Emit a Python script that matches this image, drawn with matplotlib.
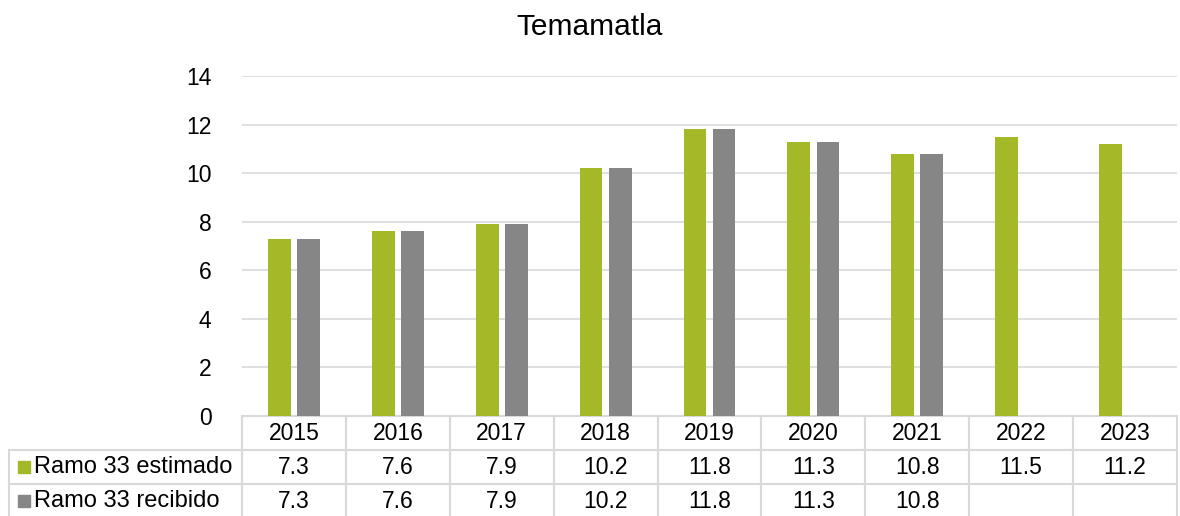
import numpy as np
import matplotlib
matplotlib.use('Agg')
import matplotlib.pyplot as plt

plt.rcParams['font.family'] = ['Liberation Sans', 'DejaVu Sans']

# datos
years = ['2015', '2016', '2017', '2018', '2019', '2020', '2021', '2022', '2023']
estimado = [7.3, 7.6, 7.9, 10.2, 11.8, 11.3, 10.8, 11.5, 11.2]
recibido = [7.3, 7.6, 7.9, 10.2, 11.8, 11.3, 10.8, None, None]
series_names = ['Ramo 33 estimado', 'Ramo 33 recibido']
colors = ['#a5b828', '#868686']

fig = plt.figure(figsize=(11.8, 5.16), dpi=100)
ax = fig.add_axes([242/1180, 1 - 416/516, (1177 - 242)/1180, 340/516])

x = np.arange(len(years))
w = 0.22
off = 0.14
rec = [np.nan if v is None else v for v in recibido]
ax.bar(x - off, estimado, w, color=colors[0], zorder=3)
ax.bar(x + off, rec, w, color=colors[1], zorder=3)

ax.set_xlim(-0.5, len(years) - 0.5)
ax.set_ylim(0, 14)
ax.set_yticks(range(0, 15, 2))
ax.tick_params(axis='y', length=0, labelsize=16.5, pad=22)
ax.set_xticks([])
ax.grid(axis='y', color='#d9d9d9', linewidth=1.2, zorder=0)
for s in ax.spines.values():
    s.set_visible(False)

fig.text(0.5, 1 - 27/516, 'Temamatla', ha='center', va='center', fontsize=21.5)

# tabla de datos
def fmt(v):
    return '' if v is None else f'{v:.1f}'

cells = [[''] + years,
         [''] + [fmt(v) for v in estimado],
         [''] + [fmt(v) for v in recibido]]
x0 = (9 - 242) / 935
lab_w = (242 - 9) / 935
tab_h = 102 / 340
col_w = [lab_w] + [1 / len(years)] * len(years)
tbl = ax.table(cellText=cells, colWidths=col_w, cellLoc='center',
               bbox=[x0, -tab_h, 1 - x0, tab_h])
tbl.auto_set_font_size(False)
tbl.set_fontsize(16.5)
for (r, c), cell in tbl.get_celld().items():
    cell.set_edgecolor('#d9d9d9')
    cell.set_linewidth(1.5)
    if r == 0 and c == 0:
        cell.visible_edges = 'BR'

# etiquetas de serie con cuadros de color
row_h = tab_h / 3
for i, (name, col) in enumerate(zip(series_names, colors)):
    yc = -row_h * (1.5 + i)
    ax.plot([(24.5 - 242) / 935], [yc], marker='s', markersize=9, color=col,
            linestyle='none', transform=ax.transAxes, clip_on=False)
    ax.text((34 - 242) / 935, yc, name, fontsize=17, ha='left', va='center',
            transform=ax.transAxes, clip_on=False)

fig.savefig('out.png', dpi=100)
